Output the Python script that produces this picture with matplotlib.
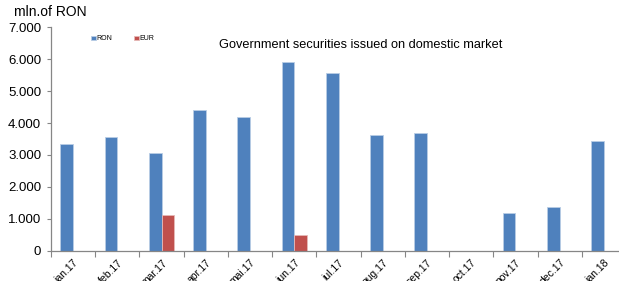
import numpy as np
import matplotlib.pyplot as plt
from matplotlib.ticker import FuncFormatter

plt.rcParams['font.family'] = ['Liberation Sans', 'DejaVu Sans']

# === DATA ===
months = ["ian.17", "feb.17", "mar.17", "apr.17", "mai.17", "iun.17", "iul.17",
          "aug.17", "sep.17", "oct.17", "nov.17", "dec.17", "ian.18"]
ron = [3340, 3550, 3060, 4410, 4200, 5930, 5580, 3630, 3680, 0, 1170, 1370, 3430]
eur = [0, 0, 1110, 0, 0, 480, 0, 0, 0, 0, 0, 0, 0]

# === PLOT ===
fig = plt.figure(figsize=(6.19, 2.81), dpi=100)
ax = fig.add_axes([0.0824, 0.108, 0.929, 0.7944])

x = np.arange(len(months))
w = 0.286
ax.bar(x - w / 2, ron, w, color="#4F81BD", edgecolor="#B9CDE5", linewidth=0.6, label="RON")
ax.bar(x + w / 2, eur, w, color="#C0504D", edgecolor="#E6B9B8", linewidth=0.6, label="EUR")

ax.set_xlim(-0.5, len(months) - 0.5)
ax.set_ylim(0, 7000)
ax.set_yticks(np.arange(0, 7001, 1000))
ax.yaxis.set_major_formatter(FuncFormatter(lambda v, p: f"{int(v):,}".replace(",", ".")))
ax.tick_params(axis="y", labelsize=9.5, length=3, color="#868686", pad=4)

# category boundaries as major ticks, labels on centers
ax.set_xticks(np.arange(-0.5, len(months), 1.0))
ax.set_xticklabels([])
ax.set_xticks(x, minor=True)
ax.set_xticklabels(months, minor=True, rotation=45, ha="right", va="top",
                   rotation_mode="anchor", fontsize=7.5)
ax.tick_params(axis="x", which="major", length=4, color="#868686")
ax.tick_params(axis="x", which="minor", length=0, pad=5)

for s in ["top", "right"]:
    ax.spines[s].set_visible(False)
for s in ["left", "bottom"]:
    ax.spines[s].set_color("#868686")
    ax.spines[s].set_linewidth(0.9)

fig.text(14 / 619, 1 - 12 / 281, "mln.of RON", fontsize=10, va="center", ha="left")
fig.text(361 / 619, 1 - 45 / 281, "Government securities issued on domestic market",
         fontsize=9.2, ha="center", va="center")

ax.legend(loc="center left", bbox_to_anchor=(88 / 619, 1 - 39 / 281),
          bbox_transform=fig.transFigure, ncol=2, fontsize=5, frameon=False,
          handlelength=0.6, handleheight=0.6, handletextpad=0.1, columnspacing=3.2,
          borderpad=0)

fig.savefig("out.png", dpi=100)
